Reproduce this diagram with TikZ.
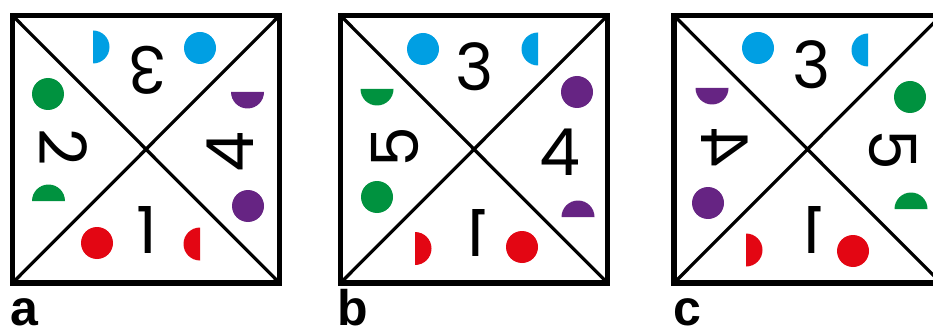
\documentclass[tikz,border=0pt]{standalone}
\usepackage{fontspec}
\setmainfont{Poppins}
\newfontfamily\tagfont{Liberation Sans}
\definecolor{DotBlue}{RGB}{0,159,227}
\definecolor{DotGreen}{RGB}{0,146,63}
\definecolor{DotPurple}{RGB}{102,36,131}
\definecolor{DotRed}{RGB}{227,6,19}
% half dot: colour, centre of the flat side, start angle of the arc
\newcommand{\halfdot}[3]{\fill[#1] (#2) ++(#3:16.5) arc[start angle=#3, delta angle=180, radius=16.5] -- cycle;}

\begin{document}
\begin{tikzpicture}[
  x=1pt,y=-1pt,
  frame/.style={line width=5.5pt},
  cross/.style={line width=3.2pt},
  digit/.style={font=\fontsize{65}{65}\selectfont,inner sep=0pt},
  tag/.style={font=\tagfont\bfseries\fontsize{50}{50}\selectfont,
              anchor=base west,inner sep=0pt},
]
\useasboundingbox (0,0) rectangle (933,331);
\clip (0,0) rectangle (933,331);

% --- square a
\draw[frame] (12.5,15.5) rectangle (279.5,283);
\draw[cross] (12.5,15.5) -- (279.5,283) (12.5,283) -- (279.5,15.5);
\node[digit,rotate=180] (a3) at (147,70) {3};
\node[digit,rotate=-90] (a2) at (63,147) {2};
\node[digit,rotate=90] (a4) at (230,152) {4};
\node[digit] (a1) at (147,230) {1};
\halfdot{DotBlue}{93,47}{-90}
\fill[DotBlue] (200,48) circle[radius=16];
\fill[DotGreen] (48,94) circle[radius=16];
\halfdot{DotGreen}{48.5,201}{180}
\halfdot{DotPurple}{247.5,92}{0}
\fill[DotPurple] (248,206) circle[radius=16];
\fill[DotRed] (97,243) circle[radius=16];
\halfdot{DotRed}{200,244}{90}
\node[tag] (la) at (10,325) {a};

% --- square b
\draw[frame] (340.5,15.5) rectangle (607.5,283);
\draw[cross] (340.5,15.5) -- (607.5,283) (340.5,283) -- (607.5,15.5);
\node[digit] (b3) at (475,67) {3};
\node[digit,rotate=90] (b5) at (395,147) {5};
\node[digit] (b4) at (560,152) {4};
\node[digit] (b1) at (477,233) {\scalebox{-1}[1]{1}};
\fill[DotBlue] (423,49) circle[radius=16];
\halfdot{DotBlue}{538,49}{90}
\fill[DotPurple] (577,92) circle[radius=16];
\halfdot{DotGreen}{377,89}{0}
\fill[DotGreen] (377,197) circle[radius=16];
\halfdot{DotPurple}{578,217}{180}
\halfdot{DotRed}{415,248.5}{-90}
\fill[DotRed] (522,247) circle[radius=16];
\node[tag] (lb) at (337,325) {b};

% --- square c (cut by the right edge)
\draw[frame] (674,15.5) rectangle (941,283);
\draw[cross] (674,15.5) -- (941,283) (674,283) -- (941,15.5);
\node[digit] (c3) at (812,65) {3};
\node[digit] (c4) at (725,148) {\scalebox{-1}[1]{\rotatebox{90}{4}}};
\node[digit,rotate=-90] (c5) at (893,150) {5};
\node[digit] (c1) at (813,230) {\scalebox{-1}[1]{1}};
\fill[DotBlue] (758,48) circle[radius=16];
\halfdot{DotBlue}{868,50}{90}
\halfdot{DotPurple}{712,88}{0}
\fill[DotGreen] (910,97) circle[radius=16];
\fill[DotPurple] (708,203) circle[radius=16];
\halfdot{DotGreen}{911,209}{180}
\halfdot{DotRed}{746,250}{-90}
\fill[DotRed] (853,251) circle[radius=16];
\node[tag] (lc) at (673,325) {c};
\end{tikzpicture}
\end{document}
